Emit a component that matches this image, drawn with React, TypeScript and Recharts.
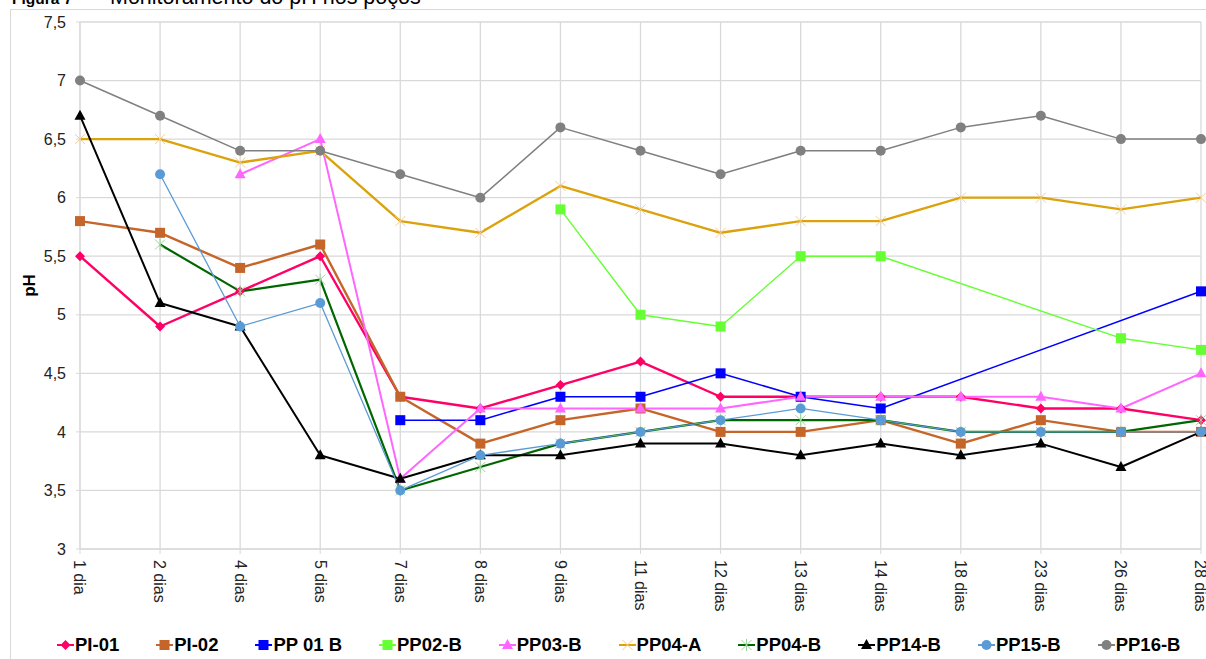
import { LineChart, Line, XAxis, YAxis, CartesianGrid, Legend, Label } from 'recharts';

const days = ['1 dia', '2 dias', '4 dias', '5 dias', '7 dias', '8 dias', '9 dias', '11 dias', '12 dias', '13 dias', '14 dias', '18 dias', '23 dias', '26 dias', '28 dias'];

const pi01 = [5.5, 4.9, 5.2, 5.5, 4.3, 4.2, 4.4, 4.6, 4.3, 4.3, 4.3, 4.3, 4.2, 4.2, 4.1];
const pi02 = [5.8, 5.7, 5.4, 5.6, 4.3, 3.9, 4.1, 4.2, 4.0, 4.0, 4.1, 3.9, 4.1, 4.0, 4.0];
const pp01b = [null, null, null, null, 4.1, 4.1, 4.3, 4.3, 4.5, 4.3, 4.2, null, null, null, 5.2];
const pp02b = [null, null, null, null, null, null, 5.9, 5.0, 4.9, 5.5, 5.5, null, null, 4.8, 4.7];
const pp03b = [null, null, 6.2, 6.5, 3.6, 4.2, 4.2, 4.2, 4.2, 4.3, 4.3, 4.3, 4.3, 4.2, 4.5];
const pp04a = [6.5, 6.5, 6.3, 6.4, 5.8, 5.7, 6.1, 5.9, 5.7, 5.8, 5.8, 6.0, 6.0, 5.9, 6.0];
const pp04b = [null, 5.6, 5.2, 5.3, 3.5, 3.7, 3.9, 4.0, 4.1, 4.1, 4.1, 4.0, 4.0, 4.0, 4.1];
const pp14b = [6.7, 5.1, 4.9, 3.8, 3.6, 3.8, 3.8, 3.9, 3.9, 3.8, 3.9, 3.8, 3.9, 3.7, 4.0];
const pp15b = [null, 6.2, 4.9, 5.1, 3.5, 3.8, 3.9, 4.0, 4.1, 4.2, 4.1, 4.0, 4.0, 4.0, 4.0];
const pp16b = [7.0, 6.7, 6.4, 6.4, 6.2, 6.0, 6.6, 6.4, 6.2, 6.4, 6.4, 6.6, 6.7, 6.5, 6.5];

const yTicks = [3, 3.5, 4, 4.5, 5, 5.5, 6, 6.5, 7, 7.5];

type MarkerKind = 'diamond' | 'square' | 'triangle' | 'circle' | 'x' | 'star';

interface Serie {
  key: string;
  name: string;
  values: (number | null)[];
  color: string;
  width: number;
  marker: MarkerKind;
  markerColor: string;
}

const series: Serie[] = [
  { key: 'pi01', name: 'PI-01', values: pi01, color: '#FF0066', width: 2.4, marker: 'diamond', markerColor: '#FF0066' },
  { key: 'pi02', name: 'PI-02', values: pi02, color: '#C6652A', width: 2.4, marker: 'square', markerColor: '#C6652A' },
  { key: 'pp01b', name: 'PP 01 B', values: pp01b, color: '#0000FF', width: 1.6, marker: 'square', markerColor: '#0000FF' },
  { key: 'pp02b', name: 'PP02-B', values: pp02b, color: '#66FF33', width: 1.4, marker: 'square', markerColor: '#66FF33' },
  { key: 'pp03b', name: 'PP03-B', values: pp03b, color: '#FF66FF', width: 2, marker: 'triangle', markerColor: '#FF66FF' },
  { key: 'pp04a', name: 'PP04-A', values: pp04a, color: '#DBA20C', width: 2.4, marker: 'x', markerColor: '#F7CB8C' },
  { key: 'pp04b', name: 'PP04-B', values: pp04b, color: '#006600', width: 2.2, marker: 'star', markerColor: '#9CD49C' },
  { key: 'pp14b', name: 'PP14-B', values: pp14b, color: '#000000', width: 2, marker: 'triangle', markerColor: '#000000' },
  { key: 'pp15b', name: 'PP15-B', values: pp15b, color: '#5B9BD5', width: 1.3, marker: 'circle', markerColor: '#5B9BD5' },
  { key: 'pp16b', name: 'PP16-B', values: pp16b, color: '#808080', width: 1.5, marker: 'circle', markerColor: '#808080' },
];

const rows = days.map((day, i) => {
  const row: Record<string, string | number | null> = { day };
  series.forEach((s) => { row[s.key] = s.values[i]; });
  return row;
});

const FONT = '"Liberation Sans", Arial, sans-serif';

function Marker({ kind, cx, cy, color }: { kind: MarkerKind; cx: number; cy: number; color: string }) {
  switch (kind) {
    case 'diamond':
      return <polygon points={`${cx},${cy - 5} ${cx + 5},${cy} ${cx},${cy + 5} ${cx - 5},${cy}`} fill={color} />;
    case 'square':
      return <rect x={cx - 5} y={cy - 5} width={10} height={10} fill={color} />;
    case 'triangle':
      return <polygon points={`${cx},${cy - 6} ${cx + 5.5},${cy + 4} ${cx - 5.5},${cy + 4}`} fill={color} />;
    case 'circle':
      return <circle cx={cx} cy={cy} r={5} fill={color} />;
    case 'x':
      return (
        <g stroke={color} strokeWidth={1}>
          <line x1={cx - 5} y1={cy - 5} x2={cx + 5} y2={cy + 5} />
          <line x1={cx - 5} y1={cy + 5} x2={cx + 5} y2={cy - 5} />
        </g>
      );
    default:
      return (
        <g stroke={color} strokeWidth={1}>
          <line x1={cx - 5} y1={cy - 5} x2={cx + 5} y2={cy + 5} />
          <line x1={cx - 5} y1={cy + 5} x2={cx + 5} y2={cy - 5} />
          <line x1={cx} y1={cy - 6} x2={cx} y2={cy + 6} />
        </g>
      );
  }
}

function DayTick({ x, y, payload }: { x: number; y: number; payload: { value: string } }) {
  return (
    <g transform={`translate(${x},${y})`}>
      <text transform="rotate(90)" dy="0.35em" textAnchor="start" fontSize={16} fontFamily={FONT} fill="#222">
        {payload.value}
      </text>
    </g>
  );
}

function PhLabel({ viewBox }: { viewBox?: { x: number; y: number; width: number; height: number } }) {
  if (!viewBox) return null;
  const x = viewBox.x + 29;
  const y = viewBox.y + viewBox.height / 2;
  return (
    <text x={x} y={y} transform={`rotate(-90, ${x}, ${y})`} textAnchor="middle" dominantBaseline="central"
      fontSize={17} fontWeight={700} fontFamily={FONT} fill="#000">
      pH
    </text>
  );
}

function SeriesLegend() {
  return (
    <div style={{ display: 'flex', alignItems: 'center', height: 36, paddingTop: 8, paddingLeft: 57, boxSizing: 'border-box', gap: 37 }}>
      {series.map((s) => (
        <div key={s.key} style={{ display: 'flex', alignItems: 'center' }}>
          <svg width={17} height={14}>
            <line x1={0} y1={7} x2={17} y2={7} stroke={s.color} strokeWidth={2} />
            <Marker kind={s.marker} cx={8.5} cy={7} color={s.markerColor} />
          </svg>
          <span style={{ fontWeight: 700, fontSize: 18.5, marginLeft: 1, color: '#000', fontFamily: FONT, lineHeight: '20px' }}>{s.name}</span>
        </div>
      ))}
    </div>
  );
}

export default function App() {
  return (
    <div style={{ position: 'absolute', left: 0, top: 0, width: 1206, height: 659, overflow: 'hidden', background: '#fff', fontFamily: FONT }}>
      <div style={{ position: 'absolute', left: 10, top: 9, width: 1400, height: 800, border: '1px solid #d9d9d9' }} />
      <span style={{ position: 'absolute', left: 12, top: -9, fontSize: 15.5, lineHeight: '15.5px', fontWeight: 700, whiteSpace: 'nowrap' }}>Figura 7</span>
      <span style={{ position: 'absolute', left: 110, top: -13, fontSize: 21.5, lineHeight: '21.5px', whiteSpace: 'nowrap' }}>Monitoramento do pH nos poços</span>
      <div style={{ position: 'absolute', left: 0, top: 0 }}>
        <LineChart width={1206} height={659} data={rows} margin={{ top: 22, right: 5, bottom: 0, left: 0 }}>
          <CartesianGrid stroke="#d9d9d9" strokeWidth={1.3} />
          <XAxis dataKey="day" interval={0} height={74} tickSize={5} tickMargin={6}
            stroke="#d9d9d9" tick={(p: any) => <DayTick {...p} />} />
          <YAxis domain={[3, 7.5]} ticks={yTicks} width={80} tickSize={4} tickMargin={10}
            stroke="#d9d9d9" allowDataOverflow
            tick={{ fontSize: 16, fill: '#222', fontFamily: FONT }}
            tickFormatter={(v: number) => String(v).replace('.', ',')}>
            <Label content={<PhLabel />} />
          </YAxis>
          <Legend verticalAlign="bottom" height={36} content={<SeriesLegend />} />
          {series.map((s) => (
            <Line key={s.key} type="linear" dataKey={s.key} name={s.name} stroke={s.color} strokeWidth={s.width}
              strokeLinejoin="round" connectNulls isAnimationActive={false} activeDot={false}
              dot={(p: any) => (p.cx == null || p.cy == null || p.value == null)
                ? <g key={`${s.key}-${p.index}`} />
                : <Marker key={`${s.key}-${p.index}`} kind={s.marker} cx={p.cx} cy={p.cy} color={s.markerColor} />} />
          ))}
        </LineChart>
      </div>
    </div>
  );
}
